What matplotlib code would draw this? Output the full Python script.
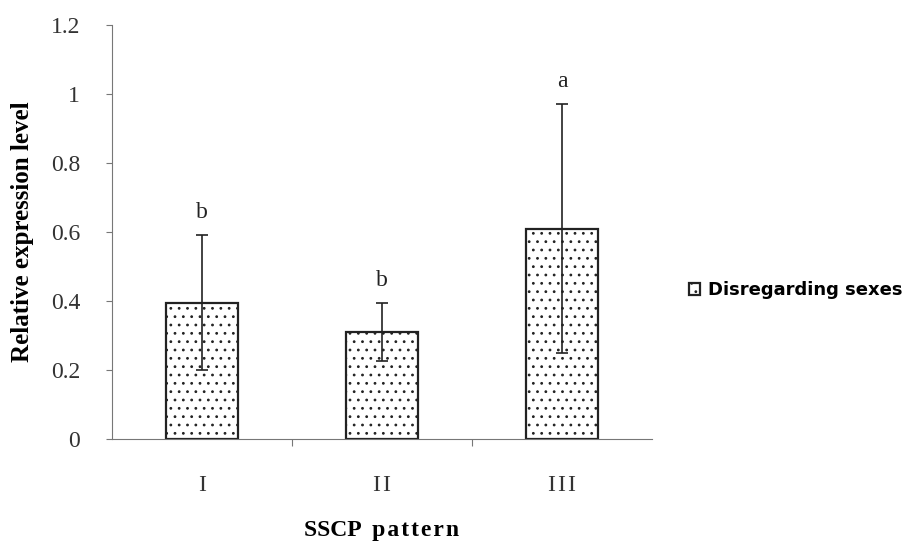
import matplotlib.pyplot as plt
import matplotlib as mpl

patterns = ['I', 'I\u200aI', 'I\u200aI\u200aI']
expression = [0.395, 0.31, 0.61]
err = [0.195, 0.085, 0.36]
letters = ['b', 'b', 'a']

mpl.rcParams['font.family'] = ['Liberation Serif', 'DejaVu Serif']
mpl.rcParams['hatch.color'] = '#666666'
mpl.rcParams['hatch.linewidth'] = 0.8

fig = plt.figure(figsize=(9.06, 5.45), dpi=100)
ax = fig.add_axes([0.1236, 0.1945, 0.596, 0.7595])

x = range(len(patterns))
ax.bar(x, expression, width=0.4, color='white', edgecolor='#222222', lw=1.6,
       hatch='..', label='Disregarding sexes', zorder=2)
ax.errorbar(x, expression, yerr=err, fmt='none', ecolor='#222222',
            elinewidth=1.2, capsize=4, capthick=1.2, zorder=3)
for i in x:
    ax.text(i, expression[i] + err[i] + 0.035, letters[i], ha='center',
            va='bottom', fontsize=17, color='#222222')

ax.set_xlim(-0.5, 2.5)
ax.set_ylim(0, 1.2)
ax.set_yticks([0, 0.2, 0.4, 0.6, 0.8, 1.0, 1.2])
ax.set_yticklabels(['0', '0.2', '0.4', '0.6', '0.8', '1', '1.2'], fontsize=17,
                   color='#333333')
ax.set_xticks([0.5, 1.5], minor=False)
ax.set_xticklabels([])
ax.set_xticks(list(x), minor=True)
ax.set_xticklabels(patterns, minor=True, fontsize=17, color='#333333')
ax.tick_params(axis='x', which='minor', length=0, pad=26)
ax.tick_params(axis='x', which='major', length=5, direction='out', color='#777777')
ax.tick_params(axis='y', length=4, direction='out', color='#777777', pad=19)

for s in ['top', 'right']:
    ax.spines[s].set_visible(False)
for s in ['left', 'bottom']:
    ax.spines[s].set_color('#777777')

ax.set_ylabel('Relative expression level', fontsize=18, fontweight='bold',
              va='center')
ax.yaxis.set_label_coords(-0.165, 0.5)
ax.set_xlabel('SSCP  p\u200aa\u200at\u200at\u200ae\u200ar\u200an', fontsize=17,
              fontweight='bold', va='center')
ax.xaxis.set_label_coords(0.5, -0.22)

ax.legend(loc='center left', bbox_to_anchor=(1.068, 0.36), frameon=False,
          borderaxespad=0, borderpad=0,
          handlelength=0.65, handleheight=0.65, handletextpad=0.4,
          prop={'family': 'DejaVu Sans', 'weight': 'bold', 'size': 13})

fig.savefig('out.png', dpi=100)
